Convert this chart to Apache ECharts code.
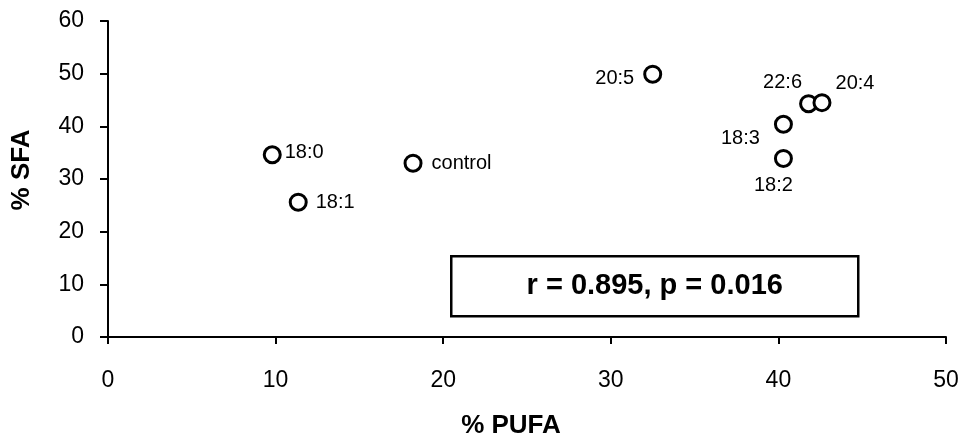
<!DOCTYPE html>
<html>
<head>
<meta charset="utf-8">
<script src="https://cdn.jsdelivr.net/npm/echarts@6/dist/echarts.min.js"></script>
<style>
  html, body { margin: 0; padding: 0; background: #fff; }
  #chart { width: 963px; height: 441px; }
</style>
</head>
<body>
<div id="chart"></div>
<script>
// Fatty acid treatments: % PUFA vs % SFA
const treatments = ['18:0', '18:1', 'control', '20:5', '22:6', '20:4', '18:3', '18:2'];
const pufa = [9.8, 11.35, 18.2, 32.5, 41.8, 42.6, 40.3, 40.3];
const sfa  = [34.6, 25.6, 33.0, 49.9, 44.3, 44.5, 40.4, 33.9];
const xTicks = [0, 10, 20, 30, 40, 50];
const yTicks = [0, 10, 20, 30, 40, 50, 60];
const statText = 'r = 0.895, p = 0.016';

// where each point's label sits relative to its marker
const labelPlacement = {
  '18:0':    { position: 'right',  distance: 3,  offset: [0, -2] },
  '18:1':    { position: 'right',  distance: 8,  offset: [0, 0] },
  'control': { position: 'right',  distance: 9,  offset: [0, 0] },
  '20:5':    { position: 'left',   distance: 9,  offset: [0, 4] },
  '22:6':    { position: 'inside', distance: 0,  offset: [-26, -21] },
  '20:4':    { position: 'inside', distance: 0,  offset: [33, -19] },
  '18:3':    { position: 'inside', distance: 0,  offset: [-43, 14] },
  '18:2':    { position: 'inside', distance: 0,  offset: [-10, 27] }
};

const FONT = 'Liberation Sans, Arial, sans-serif';

const points = treatments.map((name, i) => {
  const lp = labelPlacement[name];
  return {
    name: name,
    value: [pufa[i], sfa[i]],
    label: { show: true, position: lp.position, distance: lp.distance, offset: lp.offset, formatter: name }
  };
});

const chart = echarts.init(document.getElementById('chart'), null, { renderer: 'canvas' });

chart.setOption({
  animation: false,
  backgroundColor: '#fff',
  grid: { left: 108, right: 17, top: 21, bottom: 104, containLabel: false, outerBoundsMode: 'none' },
  xAxis: {
    type: 'value', min: 0, max: 50, interval: 10,
    name: '% PUFA', nameLocation: 'middle', nameGap: 76,
    nameTextStyle: { fontFamily: FONT, fontSize: 26, fontWeight: 'bold', color: '#000',
      padding: [0, 32, 0, 0] },
    axisLine: { show: true, onZero: false, lineStyle: { color: '#000', width: 2 } },
    axisTick: { show: true, inside: false, length: 7, lineStyle: { color: '#000', width: 2 } },
    axisLabel: { fontFamily: FONT, fontSize: 23, color: '#000', margin: 32,
      formatter: v => xTicks.includes(v) ? String(v) : '' },
    splitLine: { show: false }
  },
  yAxis: {
    type: 'value', min: 0, max: 60, interval: 10,
    name: '% SFA', nameLocation: 'middle', nameGap: 73, nameRotate: 90,
    nameTextStyle: { fontFamily: FONT, fontSize: 26, fontWeight: 'bold', color: '#000',
      padding: [0, 0, 0, 18] },
    axisLine: { show: true, lineStyle: { color: '#000', width: 2 } },
    axisTick: { show: true, inside: false, length: 8, lineStyle: { color: '#000', width: 2 } },
    axisLabel: { fontFamily: FONT, fontSize: 23, color: '#000', margin: 24,
      formatter: v => yTicks.includes(v) ? String(v) : '' },
    splitLine: { show: false }
  },
  series: [{
    type: 'scatter',
    symbol: 'circle',
    symbolSize: 16,
    itemStyle: { color: '#fff', borderColor: '#000', borderWidth: 3, opacity: 1 },
    label: { fontFamily: FONT, fontSize: 20, color: '#000' },
    data: points,
    z: 3
  }],
  graphic: [{
    type: 'group',
    left: 450, top: 255,
    children: [{
      type: 'rect',
      shape: { x: 0, y: 0, width: 407, height: 60 },
      style: { fill: '#fff', stroke: '#000', lineWidth: 2.5 }
    }, {
      type: 'text',
      x: 203.5, y: 30,
      style: {
        text: statText, fill: '#000',
        font: 'bold 29px ' + FONT,
        align: 'center', verticalAlign: 'middle'
      }
    }]
  }]
});
</script>
</body>
</html>
